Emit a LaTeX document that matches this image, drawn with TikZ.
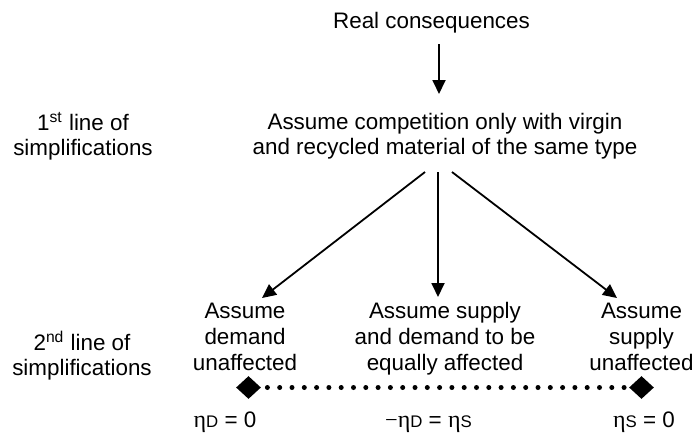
\documentclass[tikz,border=0pt]{standalone}
\usepackage{fontspec}
\setmainfont{Liberation Sans}
\newfontfamily\greekfont{Liberation Serif}
\usetikzlibrary{arrows.meta,shapes.geometric,calc}
% elasticity symbol with a small capital index set on the baseline
\newcommand{\elast}[1]{{\greekfont\fontsize{12}{13}\selectfont η}{\fontsize{8.4}{9}\selectfont #1}}

\begin{document}
\begin{tikzpicture}[x=0.5pt,y=-0.5pt,
  every node/.style={inner sep=0pt, align=center, anchor=base},
  txt/.style={font=\fontsize{11.2}{12.5}\selectfont},
  txtlow/.style={font=\fontsize{11.2}{12.9}\selectfont},
  arr/.style={line width=0.9pt, -{Triangle[length=7pt,width=6.5pt]}},
  marker/.style={diamond, fill=black, draw=none, minimum width=12.5pt, minimum height=11.5pt, anchor=center},
  dotline/.style={line width=2.5pt, line cap=round, dash pattern=on 0pt off 6.15pt},
]
\useasboundingbox (0,0) rectangle (696,435);

% top of the tree (base anchor = baseline of the last line)
\node[txt] (real) at (431.5,28) {Real consequences};
\node[txt] (comp) at (445,154) {Assume competition only with virgin\\and recycled material of the same type};

% row captions
\node[txt] (lvlA) at (83,155.5) {1\textsuperscript{st} line of\\simplifications};
\node[txt] (lvlB) at (82,375) {2\textsuperscript{nd} line of\\simplifications};

% second-level assumptions
\node[txtlow] (dem) at (245,370) {Assume\\demand\\unaffected};
\node[txtlow] (both) at (445,370) {Assume supply\\and demand to be\\equally affected};
\node[txtlow] (sup) at (641.5,370) {Assume\\supply\\unaffected};

% arrows
\draw[arr] ($(real.base)+(7.5,16)$) -- ($(comp.base)+(-6,-60)$);
\draw[arr] ($(comp.base)+(-20,18)$) -- ($(dem.base)+(17,-72)$);
\draw[arr] ($(comp.base)+(-7,18)$) -- ($(both.base)+(-7,-73)$);
\draw[arr] ($(comp.base)+(7,18)$) -- ($(sup.base)+(-24.5,-72)$);

% range of the elasticities
\node[marker] (mL) at (248.5,387.5) {};
\node[marker] (mR) at (641.5,387.5) {};
\draw[dotline] ($(mL.east)+(6,0)$) -- ($(mR.west)+(-4,0)$);

\node[txt] (eL) at (225,427) {\elast{D} = 0};
\node[txt] (eM) at (428.5,427) {{\greekfont −}\elast{D} = \elast{S}};
\node[txt] (eR) at (644,427) {\elast{S} = 0};
\end{tikzpicture}
\end{document}
